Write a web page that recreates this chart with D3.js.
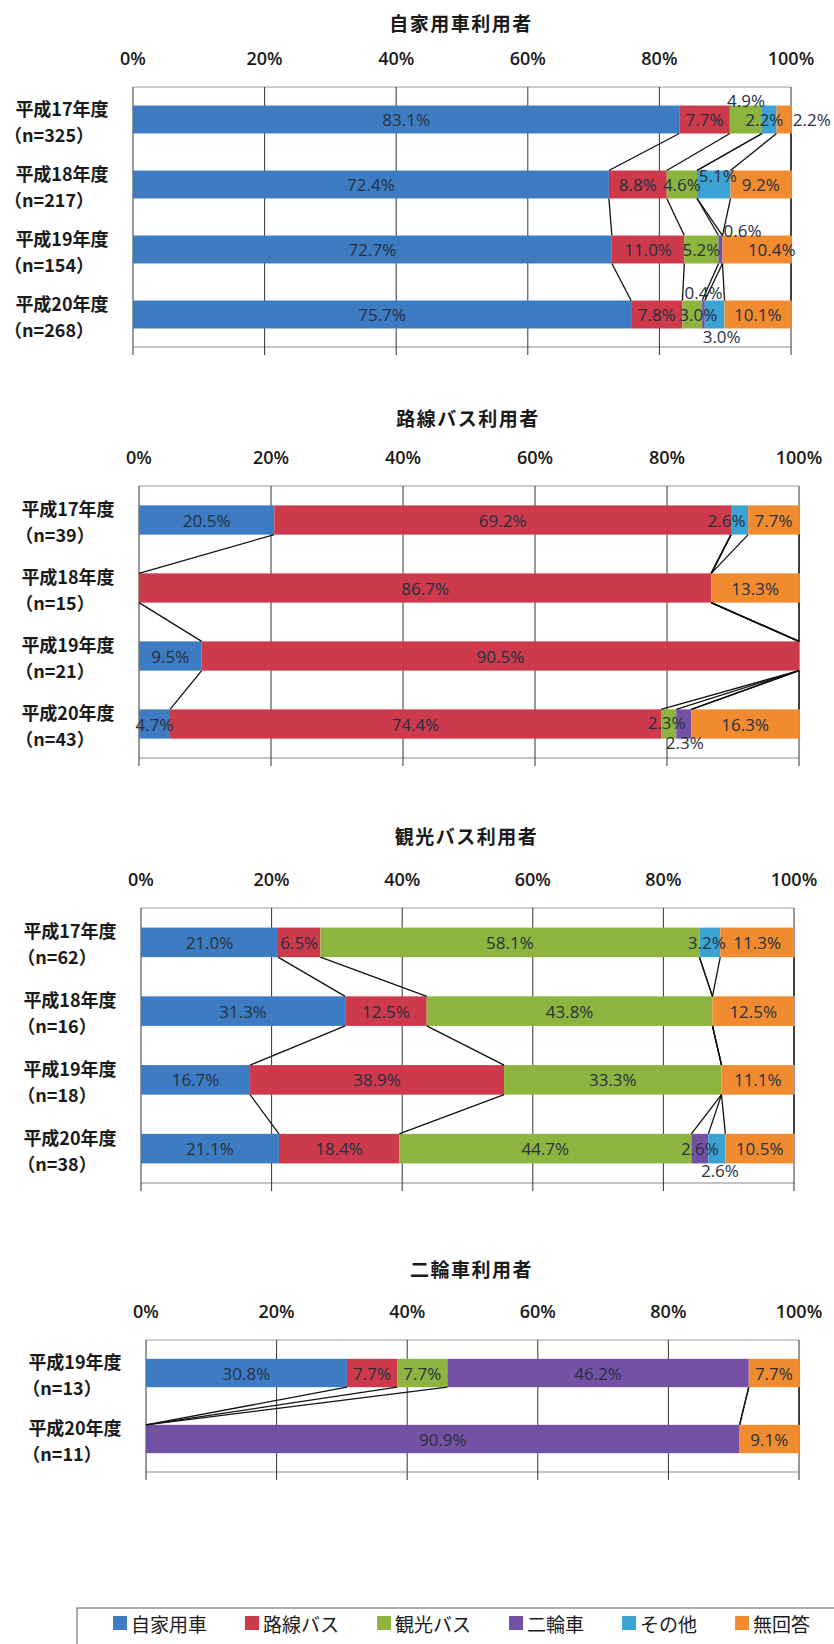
<!DOCTYPE html>
<html>
<head>
<meta charset="utf-8">
<script src="https://cdn.jsdelivr.net/npm/d3@7"></script>
<style>
  body { margin: 0; background: #fff; }
  .jp { font-family: "Noto Sans CJK JP", sans-serif; }
  .num { font-family: "Open Sans", sans-serif; }
</style>
</head>
<body>
<div id="chart"></div>
<script>
// Data
const seriesNames = ["自家用車", "路線バス", "観光バス", "二輪車", "その他", "無回答"];
const seriesColors = ["#3D7BC2", "#CC3A4C", "#8DB43E", "#7352A5", "#3AA3D3", "#F08B2F"];
const tickValues = [0, 20, 40, 60, 80, 100];

const chartTitles = ["自家用車利用者", "路線バス利用者", "観光バス利用者", "二輪車利用者"];

const carYears = ["平成17年度", "平成18年度", "平成19年度", "平成20年度"];
const carN = ["325", "217", "154", "268"];
const carValues = [
  [83.1, 7.7, 4.9, 0, 2.2, 2.2],
  [72.4, 8.8, 4.6, 0, 5.1, 9.2],
  [72.7, 11.0, 5.2, 0.6, 0, 10.4],
  [75.7, 7.8, 3.0, 0.4, 3.0, 10.1]
];

const busYears = ["平成17年度", "平成18年度", "平成19年度", "平成20年度"];
const busN = ["39", "15", "21", "43"];
const busValues = [
  [20.5, 69.2, 0, 0, 2.6, 7.7],
  [0, 86.7, 0, 0, 0, 13.3],
  [9.5, 90.5, 0, 0, 0, 0],
  [4.7, 74.4, 2.3, 2.3, 0, 16.3]
];

const tourYears = ["平成17年度", "平成18年度", "平成19年度", "平成20年度"];
const tourN = ["62", "16", "18", "38"];
const tourValues = [
  [21.0, 6.5, 58.1, 0, 3.2, 11.3],
  [31.3, 12.5, 43.8, 0, 0, 12.5],
  [16.7, 38.9, 33.3, 0, 0, 11.1],
  [21.1, 18.4, 44.7, 2.6, 2.6, 10.5]
];

const bikeYears = ["平成19年度", "平成20年度"];
const bikeN = ["13", "11"];
const bikeValues = [
  [30.8, 7.7, 7.7, 46.2, 0, 7.7],
  [0, 0, 0, 90.9, 0, 9.1]
];

// Layout of the four panels
const w = 834;
const h = 1644;
const panels = [
  {title: chartTitles[0], years: carYears, n: carN, values: carValues, top: 87, bottom: 347, left: 133, right: 791, titleY: 22},
  {title: chartTitles[1], years: busYears, n: busN, values: busValues, top: 486, bottom: 758, left: 139, right: 799, titleY: 417},
  {title: chartTitles[2], years: tourYears, n: tourN, values: tourValues, top: 908, bottom: 1183, left: 141, right: 794, titleY: 835},
  {title: chartTitles[3], years: bikeYears, n: bikeN, values: bikeValues, top: 1340, bottom: 1472, left: 146, right: 799, titleY: 1268}
];

// hand-moved data labels (panel-row-series): [dx, dy]
const labelNudge = {
  "0-0-2": [0, -19], "0-0-4": [-5, 0], "0-0-5": [28, 0],
  "0-1-4": [4, -9], "0-2-3": [22, -19], "0-2-5": [15, 0],
  "0-3-2": [6, 0], "0-3-3": [0, -22], "0-3-4": [7, 22],
  "1-0-4": [-13, 0], "1-3-2": [-2, -2], "1-3-3": [1, 18],
  "2-0-4": [-3, 0], "2-3-4": [3, 22]
};

const svg = d3.select("#chart")
  .append("svg")
  .attr("width", w)
  .attr("height", h)
  .style("background-color", "white");

const fmt = d3.format(".1f");
const keys = d3.range(seriesNames.length);

panels.forEach(function (p, pi) {
  const g = svg.append("g");

  const rows = p.values.map((v, i) => Object.assign({year: p.years[i]}, v));
  const stacked = d3.stack().keys(keys).offset(d3.stackOffsetExpand)(rows);

  const xScale = d3.scaleLinear()
    .domain([0, 1])
    .range([p.left, p.right]);

  const yScale = d3.scaleBand()
    .domain(p.years)
    .range([p.top, p.bottom])
    .paddingInner(0.57)
    .paddingOuter(0.285);

  // title
  g.append("text")
    .attr("class", "jp")
    .attr("x", (p.left + p.right) / 2 - 1)
    .attr("y", p.titleY)
    .attr("text-anchor", "middle")
    .attr("dominant-baseline", "central")
    .attr("font-size", "19px")
    .attr("font-weight", "bold")
    .attr("letter-spacing", "1.5px")
    .attr("fill", "#1a1a1a")
    .text(p.title);

  // tick labels on top
  g.selectAll(".tick")
    .data(tickValues)
    .enter()
    .append("text")
    .attr("class", "num")
    .attr("x", (d) => xScale(d / 100))
    .attr("y", p.top - 29.5)
    .attr("text-anchor", "middle")
    .attr("dominant-baseline", "central")
    .attr("font-size", "18px")
    .attr("font-weight", 600)
    .attr("fill", "#1a1a1a")
    .text((d) => d + "%");

  // plot border + gridlines
  g.append("line")
    .attr("x1", p.left).attr("x2", p.right)
    .attr("y1", p.top).attr("y2", p.top)
    .attr("stroke", "#9a9a9a").attr("stroke-width", 1.2);
  g.append("line")
    .attr("x1", p.left).attr("x2", p.right)
    .attr("y1", p.bottom).attr("y2", p.bottom)
    .attr("stroke", "#8a8a8a").attr("stroke-width", 1.2);
  g.selectAll(".grid")
    .data(tickValues)
    .enter()
    .append("line")
    .attr("x1", (d) => xScale(d / 100))
    .attr("x2", (d) => xScale(d / 100))
    .attr("y1", p.top)
    .attr("y2", p.bottom + 8)
    .attr("stroke", "#333")
    .attr("stroke-width", 1);

  // stacked bars
  const layers = g.selectAll(".layer")
    .data(stacked)
    .enter()
    .append("g")
    .attr("fill", (d) => seriesColors[d.key]);

  layers.selectAll("rect")
    .data((d) => d)
    .enter()
    .append("rect")
    .attr("x", (d) => xScale(d[0]))
    .attr("y", (d) => yScale(d.data.year))
    .attr("width", (d) => xScale(d[1]) - xScale(d[0]))
    .attr("height", yScale.bandwidth());

  // series lines between neighbouring bars
  stacked.forEach(function (layer) {
    for (let i = 0; i < layer.length - 1; i++) {
      g.append("line")
        .attr("x1", xScale(layer[i][1]))
        .attr("y1", yScale(p.years[i]) + yScale.bandwidth())
        .attr("x2", xScale(layer[i + 1][1]))
        .attr("y2", yScale(p.years[i + 1]))
        .attr("stroke", "#111")
        .attr("stroke-width", 1.3);
    }
  });

  // data labels
  stacked.forEach(function (layer) {
    layer.forEach(function (d, i) {
      const v = p.values[i][layer.key];
      if (!v) return;
      const nudge = labelNudge[pi + "-" + i + "-" + layer.key] || [0, 0];
      g.append("text")
        .attr("class", "num")
        .attr("x", (xScale(d[0]) + xScale(d[1])) / 2 + nudge[0])
        .attr("y", yScale(p.years[i]) + yScale.bandwidth() / 2 + nudge[1])
        .attr("text-anchor", "middle")
        .attr("dominant-baseline", "central")
        .attr("font-size", "17px")
        .attr("fill", "#27303f")
        .text(fmt(v) + "%");
    });
  });

  // category labels (two lines)
  const cx = p.left - 71;
  p.years.forEach(function (yr, i) {
    const cy = yScale(yr) + yScale.bandwidth() / 2;
    g.append("text")
      .attr("class", "jp")
      .attr("x", cx)
      .attr("y", cy - 12)
      .attr("text-anchor", "middle")
      .attr("dominant-baseline", "central")
      .attr("font-size", "18px")
      .attr("font-weight", "bold")
      .attr("fill", "#1a1a1a")
      .text(yr);
    g.append("text")
      .attr("class", "jp")
      .attr("x", cx - 13)
      .attr("y", cy + 14)
      .attr("text-anchor", "middle")
      .attr("dominant-baseline", "central")
      .attr("font-size", "18px")
      .attr("font-weight", "bold")
      .attr("fill", "#1a1a1a")
      .text("（n=" + p.n[i] + "）");
  });
});

// Legend
const legend = svg.append("g");
legend.append("rect")
  .attr("x", 77)
  .attr("y", 1608)
  .attr("width", w)
  .attr("height", 80)
  .attr("fill", "none")
  .attr("stroke", "#777")
  .attr("stroke-width", 1.2);

let lx = 113;
seriesNames.forEach(function (name, i) {
  legend.append("rect")
    .attr("x", lx)
    .attr("y", 1616)
    .attr("width", 14)
    .attr("height", 14)
    .attr("fill", seriesColors[i]);
  const t = legend.append("text")
    .attr("class", "jp")
    .attr("x", lx + 18)
    .attr("y", 1623)
    .attr("dominant-baseline", "central")
    .attr("font-size", "19px")
    .attr("fill", "#1a1a1a")
    .text(name);
  lx += 18 + t.node().getComputedTextLength() + 38;
});
</script>
</body>
</html>
